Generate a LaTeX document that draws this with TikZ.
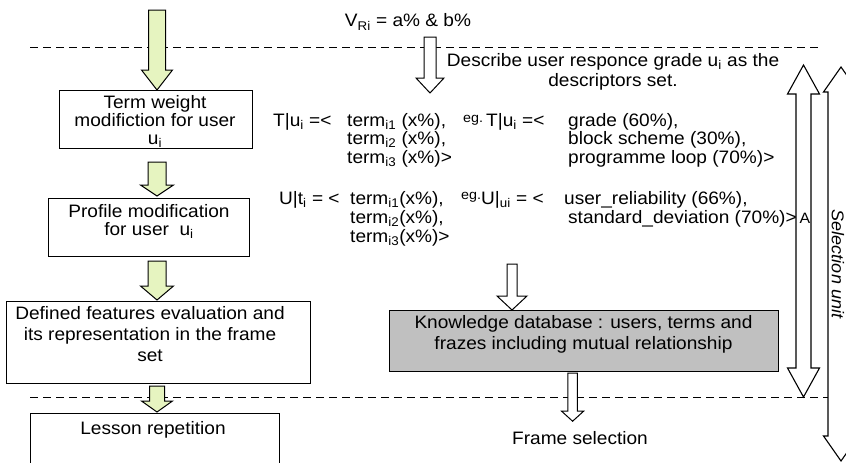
\documentclass[tikz,border=0pt]{standalone}
\usepackage{fontspec}
\setmainfont{Liberation Sans}[FakeStretch=1.06]
\usetikzlibrary{calc}
\definecolor{lgreen}{RGB}{230,244,192}
\definecolor{kgray}{RGB}{192,192,192}
\tikzset{
  txt/.style={font=\fontsize{18}{18}\selectfont, inner sep=0pt},
  smalltxt/.style={font=\fontsize{13.5}{13.5}\selectfont, inner sep=0pt},
  box/.style={draw, line width=1.2pt, inner sep=0pt},
  dline/.style={dash pattern=on 8pt off 5pt, line width=1pt},
  downarrow/.style n args={3}{line width=1pt, to path={
     ($(\tikztostart)+(-#1,0)$) -- ($(\tikztotarget)+(-#1,-#3)$) -- ($(\tikztotarget)+(-#2,-#3)$) -- (\tikztotarget) -- ($(\tikztotarget)+(#2,-#3)$) -- ($(\tikztotarget)+(#1,-#3)$) -- ($(\tikztostart)+(#1,0)$) -- cycle}},
  dblarrow/.style n args={3}{line width=1.1pt, fill=white, to path={
     (\tikztostart) -- ($(\tikztostart)+(#2,#3)$) -- ($(\tikztostart)+(#1,#3)$) -- ($(\tikztotarget)+(#1,-#3)$) -- ($(\tikztotarget)+(#2,-#3)$) -- (\tikztotarget) -- ($(\tikztotarget)+(-#2,-#3)$) -- ($(\tikztotarget)+(-#1,-#3)$) -- ($(\tikztostart)+(-#1,#3)$) -- ($(\tikztostart)+(-#2,#3)$) -- cycle}},
}
\begin{document}
\begin{tikzpicture}[x=1pt,y=-1pt]
\useasboundingbox (0,0) rectangle (846,463);
\clip (0,0) rectangle (846,463);
\fill[white] (0,0) rectangle (846,463);

% dashed separators
\draw[dline] (30,47) -- (820,47);
\draw[dline] (30,397) -- (828,397);

% left column boxes
\coordinate (col) at (157,0);
\node[box, minimum width=193pt, minimum height=58pt, anchor=north west] (box1) at (59,90) {};
\node[txt, align=center] (t1) at (155,121.5) {Term weight\\modifiction for user\\u\textsubscript{i}};
\node[box, minimum width=201pt, minimum height=58pt, anchor=north west] (box2) at (48,198) {};
\node[txt, align=center, font=\fontsize{18}{17.5}\selectfont] (t2) at (149,221.5) {Profile modification\\for user\ \ u\textsubscript{i}};
\node[box, minimum width=304pt, minimum height=82pt, anchor=north west] (box3) at (6,301) {};
\node[txt, align=center, font=\fontsize{18}{21}\selectfont] (t3) at (150,334) {Defined features evaluation and\\its representation in the frame\\set};
\node[box, minimum width=249pt, minimum height=70pt, anchor=north west] (box4) at (30,413) {};
\node[txt] (t4) at (153,430) {Lesson repetition};

% green arrows
\coordinate (g0) at (157,10);
\coordinate (g1e) at (box1.north -| col);
\coordinate (g2s) at ($(box1.south -| col)+(0,13)$);
\coordinate (g2e) at ($(box2.north -| col)+(0,-2)$);
\coordinate (g3s) at ($(box2.south -| col)+(0,4)$);
\coordinate (g3e) at ($(box3.north -| col)+(0,-1)$);
\coordinate (g4s) at ($(box3.south -| col)+(0,2)$);
\coordinate (g4e) at ($(box4.north -| col)+(0,-1)$);
\draw[downarrow={8.5}{15.5}{20}, fill=lgreen] (g0) to (g1e);
\draw[downarrow={9}{16.5}{11}, fill=lgreen] (g2s) to (g2e);
\draw[downarrow={9}{16.5}{14}, fill=lgreen] (g3s) to (g3e);
\draw[downarrow={7.5}{15.5}{11}, fill=lgreen] (g4s) to (g4e);

% middle texts
\node[txt] (vri) at (408,22) {V\textsubscript{Ri} = a\% \& b\%};
\coordinate (w1s) at (430,37);
\coordinate (w1e) at (430,93);
\draw[downarrow={6}{14}{15}, fill=white] (w1s) to (w1e);
\node[txt, align=center, font=\fontsize{18}{20}\selectfont] (desc) at (613,72) {Describe user responce grade u\textsubscript{i} as the\\descriptors set.};

\node[txt, anchor=base west] (tu) at (273,126) {T|u\textsubscript{i} =<};
\node[txt, anchor=base west] (ti1) at (347,126) {term\textsubscript{i1} (x\%),};
\node[txt, anchor=base west] (ti2) at (347,144) {term\textsubscript{i2} (x\%),};
\node[txt, anchor=base west] (ti3) at (347,163) {term\textsubscript{i3} (x\%)>};
\node[smalltxt, anchor=base west] (eg1) at (463,122) {eg.};
\node[txt, anchor=base west] (tu2) at (486,126) {T|u\textsubscript{i} =<};
\node[txt, anchor=base west] (gr1) at (568,126) {grade (60\%),};
\node[txt, anchor=base west] (gr2) at (568,144) {block scheme (30\%),};
\node[txt, anchor=base west] (gr3) at (568,163) {programme loop (70\%)>};

\node[txt, anchor=base west] (ut) at (279,204) {U|t\textsubscript{i} = <};
\node[txt, anchor=base west] (uti1) at (350,204) {term\textsubscript{i1}(x\%),};
\node[txt, anchor=base west] (uti2) at (350,223) {term\textsubscript{i2}(x\%),};
\node[txt, anchor=base west] (uti3) at (350,242) {term\textsubscript{i3}(x\%)>};
\node[smalltxt, anchor=base west] (eg2) at (461,199) {eg.};
\node[txt, anchor=base west] (uu) at (481,204) {U|\textsubscript{ui} = <};
\node[txt, anchor=base west] (ur) at (564,204) {user\_reliability (66\%),};
\node[txt, anchor=base west] (sd) at (568,223) {standard\_deviation (70\%)>};

% knowledge database
\node[box, fill=kgray, minimum width=389pt, minimum height=61pt, anchor=north west] (kb) at (389,310) {};
\node[txt, align=center, font=\fontsize{18}{21}\selectfont] (kbt) at (583.5,334.5) {Knowledge database : users, terms and\\frazes including mutual relationship};
\coordinate (k1s) at (512,264);
\coordinate (k1e) at (kb.north -| k1s);
\draw[downarrow={5}{15}{14}, fill=white] (k1s) to (k1e);
\coordinate (k2s) at ($(kb.south)+(-11.5,1)$);
\coordinate (k2e) at ($(k2s)+(0,48)$);
\draw[downarrow={4.7}{11}{10}, fill=white] (k2s) to (k2e);
\node[txt] (fs) at (580,438) {Frame selection};

% right double arrows
\coordinate (r1t) at (803.5,65);
\coordinate (r1b) at (803.5,397);
\draw[dblarrow={7.5}{16}{29}] (r1t) to (r1b);
\node[txt, anchor=base west, font=\fontsize{15}{15}\selectfont] (A) at (799.5,223) {A};
\coordinate (r2t) at (841,67);
\coordinate (r2b) at (841,461);
\draw[dblarrow={13}{17.5}{25}] (r2t) to (r2b);
\node[txt, rotate=-90, font=\fontsize{17}{17}\selectfont\itshape] (sel) at (838,264) {Selection unit};
\end{tikzpicture}
\end{document}
